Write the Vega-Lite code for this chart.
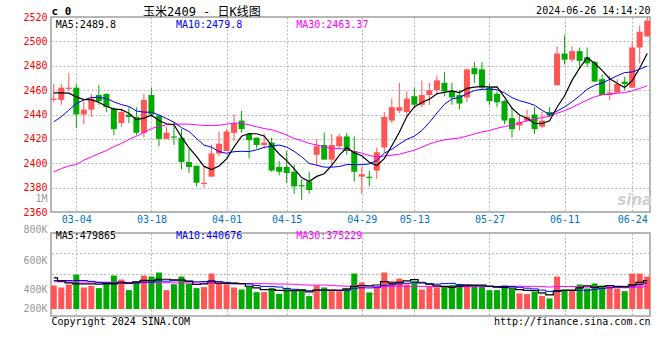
{
"$schema": "https://vega.github.io/schema/vega-lite/v6.json",
"background": "white",
"padding": {"left": 4, "top": 4, "right": 6, "bottom": 2},
"autosize": {"type": "pad"},
"spacing": 21,
"bounds": "flush",
"resolve": {"scale": {"x": "independent", "y": "independent"}},
"datasets": {"k": [
{"d":"02-28","o":2452,"h":2465,"l":2450,"c":2453,"m5":2457.8,"m10":2434,"m30":2392.9,"v":400000,"vm5":530000,"vm10":484000,"vm30":462000},
{"d":"02-29","o":2452,"h":2465,"l":2448,"c":2462,"m5":2457.8,"m10":2438.1,"m30":2395.6,"v":366000,"vm5":473000,"vm10":484000,"vm30":462000},
{"d":"03-01","o":2461,"h":2474,"l":2459,"c":2462,"m5":2457.5,"m10":2443.6,"m30":2397.8,"v":417000,"vm5":445000,"vm10":484000,"vm30":461000},
{"d":"03-04","o":2462,"h":2465,"l":2429,"c":2440,"m5":2454.5,"m10":2449,"m30":2398.9,"v":586000,"vm5":428000,"vm10":484000,"vm30":460000},
{"d":"03-05","o":2440,"h":2451,"l":2432,"c":2444,"m5":2452.2,"m10":2452,"m30":2402.5,"v":366000,"vm5":427000,"vm10":484000,"vm30":459000},
{"d":"03-06","o":2444,"h":2457,"l":2438,"c":2453,"m5":2452.2,"m10":2454,"m30":2405.2,"v":394000,"vm5":425800,"vm10":470000,"vm30":458000},
{"d":"03-07","o":2456,"h":2464,"l":2448,"c":2451,"m5":2450,"m10":2454,"m30":2407.9,"v":355000,"vm5":423600,"vm10":452000,"vm30":457000},
{"d":"03-08","o":2457,"h":2457,"l":2442,"c":2446,"m5":2446.8,"m10":2453.2,"m30":2410.4,"v":451000,"vm5":430400,"vm10":445000,"vm30":456000},
{"d":"03-11","o":2445,"h":2446,"l":2423,"c":2428,"m5":2444.4,"m10":2450.4,"m30":2413.7,"v":569000,"vm5":427000,"vm10":442000,"vm30":455000},
{"d":"03-12","o":2433,"h":2445,"l":2430,"c":2442,"m5":2444,"m10":2448.1,"m30":2416.2,"v":501000,"vm5":454000,"vm10":440500,"vm30":454000},
{"d":"03-13","o":2440,"h":2446,"l":2433,"c":2438,"m5":2441,"m10":2446.6,"m30":2419.5,"v":321000,"vm5":439400,"vm10":432600,"vm30":452000},
{"d":"03-14","o":2438,"h":2446,"l":2423,"c":2425,"m5":2435.8,"m10":2442.9,"m30":2422.2,"v":468000,"vm5":462000,"vm10":442800,"vm30":450000},
{"d":"03-15","o":2425,"h":2457,"l":2421,"c":2452,"m5":2437,"m10":2441.9,"m30":2425.2,"v":569000,"vm5":485600,"vm10":458000,"vm30":449000},
{"d":"03-18","o":2456,"h":2462,"l":2438,"c":2440,"m5":2439.4,"m10":2441.9,"m30":2428.5,"v":552000,"vm5":482200,"vm10":454600,"vm30":448000},
{"d":"03-19","o":2439,"h":2440,"l":2414,"c":2420,"m5":2435,"m10":2439.5,"m30":2430.1,"v":620000,"vm5":506000,"vm10":480000,"vm30":447000},
{"d":"03-20","o":2420,"h":2430,"l":2420,"c":2425,"m5":2432.4,"m10":2436.7,"m30":2431.5,"v":321000,"vm5":506000,"vm10":472700,"vm30":446000},
{"d":"03-21","o":2422,"h":2434,"l":2415,"c":2421,"m5":2431.6,"m10":2433.7,"m30":2432.1,"v":422000,"vm5":496800,"vm10":479400,"vm30":445000},
{"d":"03-22","o":2421,"h":2428,"l":2395,"c":2401,"m5":2421.4,"m10":2429.2,"m30":2432.1,"v":552000,"vm5":493400,"vm10":489500,"vm30":444000},
{"d":"03-25","o":2401,"h":2412,"l":2392,"c":2397,"m5":2412.8,"m10":2426.1,"m30":2432.1,"v":434000,"vm5":469800,"vm10":476000,"vm30":443000},
{"d":"03-26","o":2398,"h":2398,"l":2381,"c":2384,"m5":2405.6,"m10":2420.3,"m30":2431.5,"v":355000,"vm5":416800,"vm10":461400,"vm30":442000},
{"d":"03-27","o":2383,"h":2397,"l":2380,"c":2384,"m5":2397.4,"m10":2414.9,"m30":2431,"v":372000,"vm5":427000,"vm10":466500,"vm30":441000},
{"d":"03-28","o":2389,"h":2415,"l":2389,"c":2408,"m5":2394.8,"m10":2413.2,"m30":2431,"v":603000,"vm5":463200,"vm10":480000,"vm30":440000},
{"d":"03-29","o":2408,"h":2426,"l":2406,"c":2416,"m5":2397.8,"m10":2409.6,"m30":2431.2,"v":434000,"vm5":439600,"vm10":466500,"vm30":439000},
{"d":"04-01","o":2410,"h":2428,"l":2410,"c":2426,"m5":2403.6,"m10":2408.2,"m30":2432.1,"v":422000,"vm5":437200,"vm10":453500,"vm30":438000},
{"d":"04-02","o":2425,"h":2440,"l":2418,"c":2433,"m5":2413.4,"m10":2409.5,"m30":2432.9,"v":366000,"vm5":439400,"vm10":428100,"vm30":437000},
{"d":"04-03","o":2435,"h":2443,"l":2425,"c":2428,"m5":2422.2,"m10":2409.8,"m30":2432.9,"v":332000,"vm5":431400,"vm10":429200,"vm30":435000},
{"d":"04-08","o":2424,"h":2425,"l":2404,"c":2419,"m5":2424.4,"m10":2409.6,"m30":2431.5,"v":383000,"vm5":387400,"vm10":425300,"vm30":433000},
{"d":"04-09","o":2421,"h":2421,"l":2412,"c":2415,"m5":2424.2,"m10":2411,"m30":2429.9,"v":287000,"vm5":358000,"vm10":398800,"vm30":431000},
{"d":"04-10","o":2415,"h":2424,"l":2412,"c":2417,"m5":2422.4,"m10":2413,"m30":2428.5,"v":287000,"vm5":331000,"vm10":384100,"vm30":430000},
{"d":"04-11","o":2417,"h":2421,"l":2393,"c":2394,"m5":2414.6,"m10":2414,"m30":2427.5,"v":361000,"vm5":330000,"vm10":384700,"vm30":428900},
{"d":"04-12","o":2397,"h":2402,"l":2390,"c":2393,"m5":2407.6,"m10":2414.9,"m30":2425.5,"v":259000,"vm5":315400,"vm10":373400,"vm30":424200},
{"d":"04-15","o":2397,"h":2410,"l":2384,"c":2392,"m5":2402.2,"m10":2413.3,"m30":2423.1,"v":361000,"vm5":311000,"vm10":349200,"vm30":424000},
{"d":"04-16","o":2393,"h":2399,"l":2375,"c":2381,"m5":2395.4,"m10":2409.8,"m30":2420.4,"v":304000,"vm5":314400,"vm10":336200,"vm30":420200},
{"d":"04-17","o":2382,"h":2387,"l":2370,"c":2381,"m5":2388.2,"m10":2405.3,"m30":2418.5,"v":321000,"vm5":321200,"vm10":326100,"vm30":411400},
{"d":"04-18","o":2385,"h":2393,"l":2375,"c":2378,"m5":2385,"m10":2399.8,"m30":2416.3,"v":220000,"vm5":293000,"vm10":311500,"vm30":406500},
{"d":"04-19","o":2407,"h":2420,"l":2398,"c":2414,"m5":2389.2,"m10":2398.4,"m30":2415,"v":400000,"vm5":321200,"vm10":318300,"vm30":406700},
{"d":"04-22","o":2415,"h":2425,"l":2403,"c":2403,"m5":2391.4,"m10":2396.8,"m30":2413.4,"v":366000,"vm5":322200,"vm10":316600,"vm30":407100},
{"d":"04-23","o":2403,"h":2424,"l":2399,"c":2415,"m5":2398.2,"m10":2396.8,"m30":2412.3,"v":304000,"vm5":322200,"vm10":318300,"vm30":402200},
{"d":"04-24","o":2414,"h":2424,"l":2412,"c":2422,"m5":2406.4,"m10":2397.3,"m30":2412.1,"v":304000,"vm5":318800,"vm10":320000,"vm30":393400},
{"d":"04-25","o":2422,"h":2425,"l":2407,"c":2410,"m5":2412.8,"m10":2398.9,"m30":2411.1,"v":338000,"vm5":342400,"vm10":317700,"vm30":387900},
{"d":"04-26","o":2410,"h":2422,"l":2385,"c":2393,"m5":2408.6,"m10":2398.9,"m30":2409.6,"v":603000,"vm5":383000,"vm10":352100,"vm30":397300},
{"d":"04-29","o":2389,"h":2397,"l":2375,"c":2391,"m5":2406.2,"m10":2398.8,"m30":2408.4,"v":451000,"vm5":400000,"vm10":361100,"vm30":396800},
{"d":"04-30","o":2389,"h":2394,"l":2381,"c":2388,"m5":2400.8,"m10":2399.5,"m30":2406.3,"v":282000,"vm5":395600,"vm10":358900,"vm30":387200},
{"d":"05-06","o":2394,"h":2413,"l":2387,"c":2409,"m5":2398.2,"m10":2402.3,"m30":2405.3,"v":366000,"vm5":408000,"vm10":363400,"vm30":381000},
{"d":"05-07","o":2413,"h":2442,"l":2409,"c":2438,"m5":2403.8,"m10":2408.3,"m30":2405.9,"v":620000,"vm5":464400,"vm10":403400,"vm30":381000},
{"d":"05-08","o":2435,"h":2453,"l":2433,"c":2446,"m5":2414.4,"m10":2411.5,"m30":2406.6,"v":473000,"vm5":438400,"vm10":410700,"vm30":386100},
{"d":"05-09","o":2443,"h":2466,"l":2441,"c":2446,"m5":2425.4,"m10":2415.8,"m30":2407.4,"v":518000,"vm5":451800,"vm10":425900,"vm30":389300},
{"d":"05-10","o":2442,"h":2459,"l":2438,"c":2453,"m5":2438.4,"m10":2419.6,"m30":2409.1,"v":417000,"vm5":478800,"vm10":437200,"vm30":384800},
{"d":"05-13","o":2455,"h":2462,"l":2445,"c":2448,"m5":2446.2,"m10":2422.2,"m30":2410.8,"v":473000,"vm5":500200,"vm10":454100,"vm30":386100},
{"d":"05-14","o":2448,"h":2468,"l":2446,"c":2456,"m5":2449.8,"m10":2426.8,"m30":2413.2,"v":332000,"vm5":442600,"vm10":453500,"vm30":385300},
{"d":"05-15","o":2456,"h":2466,"l":2448,"c":2460,"m5":2452.6,"m10":2433.5,"m30":2415.8,"v":377000,"vm5":423400,"vm10":430900,"vm30":385500},
{"d":"05-16","o":2460,"h":2472,"l":2456,"c":2468,"m5":2457,"m10":2441.2,"m30":2417.8,"v":366000,"vm5":393000,"vm10":422400,"vm30":377600},
{"d":"05-17","o":2466,"h":2475,"l":2455,"c":2459,"m5":2458.2,"m10":2448.3,"m30":2419.2,"v":377000,"vm5":385000,"vm10":431900,"vm30":375700},
{"d":"05-20","o":2459,"h":2466,"l":2448,"c":2454,"m5":2459.4,"m10":2452.8,"m30":2420.1,"v":406000,"vm5":371600,"vm10":435900,"vm30":375100},
{"d":"05-21","o":2456,"h":2460,"l":2444,"c":2449,"m5":2458,"m10":2453.9,"m30":2420.7,"v":417000,"vm5":388600,"vm10":415600,"vm30":376800},
{"d":"05-22","o":2454,"h":2478,"l":2450,"c":2477,"m5":2461.4,"m10":2457,"m30":2422.3,"v":417000,"vm5":396600,"vm10":410000,"vm30":379700},
{"d":"05-23","o":2478,"h":2483,"l":2466,"c":2473,"m5":2462.4,"m10":2459.7,"m30":2424.1,"v":406000,"vm5":404600,"vm10":398800,"vm30":380400},
{"d":"05-24","o":2477,"h":2483,"l":2460,"c":2462,"m5":2463,"m10":2460.6,"m30":2425.7,"v":394000,"vm5":408000,"vm10":396500,"vm30":384000},
{"d":"05-27","o":2462,"h":2465,"l":2448,"c":2451,"m5":2462.4,"m10":2460.9,"m30":2426.8,"v":321000,"vm5":391000,"vm10":381300,"vm30":385100},
{"d":"05-28","o":2457,"h":2459,"l":2446,"c":2450,"m5":2462.6,"m10":2460.3,"m30":2428.7,"v":321000,"vm5":371800,"vm10":380200,"vm30":383800},
{"d":"05-29","o":2451,"h":2452,"l":2432,"c":2435,"m5":2454.2,"m10":2457.8,"m30":2430.1,"v":400000,"vm5":368400,"vm10":382500,"vm30":388500},
{"d":"05-30","o":2437,"h":2446,"l":2421,"c":2428,"m5":2445.2,"m10":2453.8,"m30":2431.3,"v":349000,"vm5":357000,"vm10":380800,"vm30":388100},
{"d":"05-31","o":2431,"h":2439,"l":2427,"c":2434,"m5":2439.6,"m10":2451.3,"m30":2433,"v":265000,"vm5":331200,"vm10":369600,"vm30":386800},
{"d":"06-03","o":2435,"h":2444,"l":2434,"c":2438,"m5":2437,"m10":2449.7,"m30":2434.9,"v":253000,"vm5":317600,"vm10":354300,"vm30":384500},
{"d":"06-04","o":2440,"h":2446,"l":2424,"c":2428,"m5":2432.6,"m10":2447.6,"m30":2436.6,"v":293000,"vm5":312000,"vm10":341900,"vm30":387000},
{"d":"06-05","o":2430,"h":2442,"l":2429,"c":2435,"m5":2432.6,"m10":2443.4,"m30":2437.3,"v":220000,"vm5":276000,"vm10":322200,"vm30":381000},
{"d":"06-06","o":2442,"h":2446,"l":2438,"c":2439,"m5":2434.8,"m10":2440,"m30":2438.5,"v":180000,"vm5":242200,"vm10":299600,"vm30":374800},
{"d":"06-07","o":2464,"h":2496,"l":2464,"c":2490,"m5":2446,"m10":2442.8,"m30":2441,"v":552000,"vm5":299600,"vm10":315400,"vm30":383000},
{"d":"06-11","o":2490,"h":2505,"l":2481,"c":2485,"m5":2455.4,"m10":2446.2,"m30":2443.1,"v":332000,"vm5":315400,"vm10":316500,"vm30":384000},
{"d":"06-12","o":2485,"h":2496,"l":2483,"c":2492,"m5":2468.2,"m10":2450.4,"m30":2445.8,"v":315000,"vm5":319800,"vm10":315900,"vm30":383200},
{"d":"06-13","o":2492,"h":2495,"l":2478,"c":2484,"m5":2478,"m10":2455.3,"m30":2448.9,"v":417000,"vm5":359200,"vm10":317600,"vm30":377000},
{"d":"06-14","o":2487,"h":2495,"l":2479,"c":2482,"m5":2486.6,"m10":2460.7,"m30":2451.9,"v":349000,"vm5":393000,"vm10":317600,"vm30":373600},
{"d":"06-17","o":2483,"h":2484,"l":2467,"c":2467,"m5":2482,"m10":2464,"m30":2454.5,"v":434000,"vm5":369400,"vm10":334500,"vm30":378700},
{"d":"06-18","o":2469,"h":2473,"l":2456,"c":2456,"m5":2476.2,"m10":2465.8,"m30":2456.1,"v":400000,"vm5":383000,"vm10":349200,"vm30":379800},
{"d":"06-19","o":2456,"h":2472,"l":2452,"c":2458,"m5":2469.4,"m10":2468.8,"m30":2456.8,"v":400000,"vm5":400000,"vm10":359900,"vm30":372500},
{"d":"06-20","o":2458,"h":2469,"l":2458,"c":2465,"m5":2465.6,"m10":2471.8,"m30":2457.4,"v":349000,"vm5":386400,"vm10":372800,"vm30":368300},
{"d":"06-21","o":2467,"h":2471,"l":2460,"c":2465,"m5":2462.2,"m10":2474.4,"m30":2458,"v":304000,"vm5":377400,"vm10":385200,"vm30":361200},
{"d":"06-24","o":2462,"h":2500,"l":2462,"c":2495,"m5":2467.8,"m10":2474.9,"m30":2459.4,"v":603000,"vm5":411200,"vm10":390300,"vm30":367400},
{"d":"06-25","o":2495,"h":2513,"l":2482,"c":2508,"m5":2478.2,"m10":2477.2,"m30":2461.4,"v":603000,"vm5":451800,"vm10":417400,"vm30":371700},
{"d":"06-26","o":2504,"h":2520,"l":2504,"c":2517,"m5":2490,"m10":2479.7,"m30":2463.5,"v":552000,"vm5":482200,"vm10":441100,"vm30":379100}
]},
"vconcat": [
{
"width": 599, "height": 195,
"title": {"text": "玉米2409 - 日K线图", "anchor": "start", "frame": "group", "dx": 92, "dy": 25, "offset": 0, "font": "DejaVu Sans Mono, Noto Sans CJK SC", "fontSize": 12, "fontWeight": "normal", "color": "#000000", "baseline": "bottom"},
"data": {"name": "k"},
"encoding": {"x": {"field": "d", "type": "ordinal", "sort": null, "scale": {"type": "point", "padding": 0.37},
  "axis": {"values": ["03-04","03-18","04-01","04-15","04-29","05-13","05-27","06-11","06-24"], "labelColor": "#0073cc", "labelPadding": 2, "labelAngle": 0, "grid": true,
   "title": "2024-06-26 14:14:20", "titleX": 599, "titleY": -201.5, "titleAlign": "right", "titleBaseline": "middle", "titleFontSize": 10}}},
"layer": [
 {"mark": {"type": "rule", "strokeWidth": 1},
  "encoding": {
   "y": {"field": "l", "type": "quantitative", "scale": {"domain": [2360, 2520], "zero": false, "nice": false},
     "axis": {"values": [2360, 2380, 2400, 2420, 2440, 2460, 2480, 2500, 2520], "tickCount": 30, "format": "d",
      "labelColor": "#ff0000", "labelPadding": 4, "labelOverlap": false, "minExtent": 46, "maxExtent": 46, "grid": true,
      "title": "c 0", "titleX": 0, "titleY": -5.5, "titleAlign": "left", "titleBaseline": "middle", "titleFontSize": 11, "titleFontWeight": "bold"}},
   "y2": {"field": "h"},
   "color": {"condition": {"test": "datum.c >= datum.o", "value": "#ff5555"}, "value": "#00aa00"}}},
 {"mark": {"type": "bar", "size": 6},
  "encoding": {
   "y": {"field": "o", "type": "quantitative"},
   "y2": {"field": "c"},
   "color": {"condition": {"test": "datum.c >= datum.o", "value": "#ff5555"}, "value": "#00aa00"}}},
 {"mark": {"type": "line", "color": "#ff00ff", "strokeWidth": 1}, "encoding": {"y": {"field": "m30", "type": "quantitative"}}},
 {"mark": {"type": "line", "color": "#0000ff", "strokeWidth": 1}, "encoding": {"y": {"field": "m10", "type": "quantitative"}}},
 {"mark": {"type": "line", "color": "#000000", "strokeWidth": 1.2}, "encoding": {"y": {"field": "m5", "type": "quantitative"}}},
 {"data": {"values": [{"t": "MA5:2489.8"}]}, "mark": {"type": "text", "align": "left", "baseline": "middle", "dx": 2, "dy": 2, "color": "#000000"},
  "encoding": {"x": {"datum": "02-28"}, "y": {"datum": 2515}, "text": {"field": "t"}}},
 {"data": {"values": [{"t": "MA10:2479.8"}]}, "mark": {"type": "text", "align": "left", "baseline": "middle", "dx": 2, "dy": 2, "color": "#0000ff"},
  "encoding": {"x": {"datum": "03-21"}, "y": {"datum": 2515}, "text": {"field": "t"}}},
 {"data": {"values": [{"t": "MA30:2463.37"}]}, "mark": {"type": "text", "align": "left", "baseline": "middle", "dx": 2, "dy": 2, "color": "#ff00ff"},
  "encoding": {"x": {"datum": "04-16"}, "y": {"datum": 2515}, "text": {"field": "t"}}},
 {"data": {"values": [{"t": "sina"}]}, "mark": {"type": "text", "align": "right", "baseline": "middle", "dx": 5, "font": "DejaVu Sans", "fontSize": 15, "fontStyle": "italic", "fontWeight": "bold", "color": "#cfcfcf"},
  "encoding": {"x": {"datum": "06-26"}, "y": {"datum": 2370}, "text": {"field": "t"}}}
]
},
{
"width": 599, "height": 83,
"data": {"name": "k"},
"layer": [
 {"data": {"values": [{"g": 939600}, {"g": 588200}, {"g": 248700}]},
  "mark": {"type": "rule", "color": "#b4b4b4", "strokeDash": [2, 2], "strokeWidth": 1},
  "encoding": {"y": {"field": "g", "type": "quantitative"}}},
 {"mark": {"type": "bar", "size": 6},
  "encoding": {
   "x": {"field": "d", "type": "ordinal", "sort": null, "scale": {"type": "point", "padding": 0.37},
    "axis": {"values": ["03-04","03-18","04-01","04-15","04-29","05-13","05-27","06-11","06-24"], "labels": false, "grid": true,
     "title": "http://finance.sina.com.cn", "titleX": 599, "titleY": 5.5, "titleAlign": "right", "titleBaseline": "middle", "titleFontSize": 10}},
   "y": {"field": "v", "type": "quantitative", "scale": {"domain": [-118000, 1291000], "zero": false, "nice": false},
    "axis": {"values": [1291000, 1290000, 832600, 333600, 1000], "tickCount": 30,
     "labelExpr": "datum.value == 1291000 ? '800K' : datum.value == 1290000 ? '1M' : datum.value == 832600 ? '600K' : datum.value == 333600 ? '400K' : '200K'",
     "labelOffset": {"condition": [{"test": "datum.value == 1291000", "value": -3.5}, {"test": "datum.value == 1290000", "value": -34.5}], "value": 0},
     "labelColor": "#999999", "labelPadding": 4, "labelOverlap": false, "minExtent": 46, "maxExtent": 46, "grid": false,
     "title": "Copyright 2024 SINA.COM", "titleX": 0, "titleY": 88.5, "titleAlign": "left", "titleBaseline": "middle", "titleFontSize": 10}},
   "color": {"condition": {"test": "datum.c >= datum.o", "value": "#ff5555"}, "value": "#00aa00"}}},
 {"mark": {"type": "line", "color": "#ff00ff", "strokeWidth": 1, "interpolate": "step"}, "encoding": {"x": {"field": "d", "type": "ordinal", "sort": null}, "y": {"field": "vm30", "type": "quantitative"}}},
 {"mark": {"type": "line", "color": "#0000ff", "strokeWidth": 1, "interpolate": "step"}, "encoding": {"x": {"field": "d", "type": "ordinal", "sort": null}, "y": {"field": "vm10", "type": "quantitative"}}},
 {"mark": {"type": "line", "color": "#000000", "strokeWidth": 1.2, "interpolate": "step"}, "encoding": {"x": {"field": "d", "type": "ordinal", "sort": null}, "y": {"field": "vm5", "type": "quantitative"}}},
 {"data": {"values": [{"t": "MA5:479865"}]}, "mark": {"type": "text", "align": "left", "baseline": "middle", "dx": 2, "color": "#000000"},
  "encoding": {"x": {"datum": "02-28"}, "y": {"datum": 1233600}, "text": {"field": "t"}}},
 {"data": {"values": [{"t": "MA10:440676"}]}, "mark": {"type": "text", "align": "left", "baseline": "middle", "dx": 2, "color": "#0000ff"},
  "encoding": {"x": {"datum": "03-21"}, "y": {"datum": 1233600}, "text": {"field": "t"}}},
 {"data": {"values": [{"t": "MA30:375229"}]}, "mark": {"type": "text", "align": "left", "baseline": "middle", "dx": 2, "color": "#ff00ff"},
  "encoding": {"x": {"datum": "04-16"}, "y": {"datum": 1233600}, "text": {"field": "t"}}}
]
}
],
"config": {
 "view": {"stroke": "#a0a0a0", "strokeWidth": 1.5},
 "axis": {"labelFont": "DejaVu Sans Mono", "labelFontSize": 10, "labelOverlap": false, "ticks": false, "domain": false, "gridColor": "#b4b4b4", "gridDash": [2, 2], "titleFont": "DejaVu Sans Mono", "titleFontWeight": "normal", "titleColor": "#000000", "titleAngle": 0},
 "text": {"font": "DejaVu Sans Mono", "fontSize": 10}
}
}
